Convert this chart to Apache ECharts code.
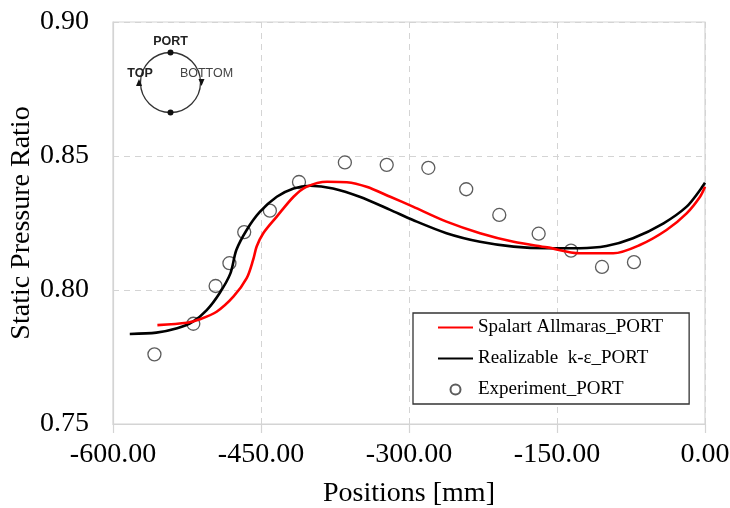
<!DOCTYPE html>
<html>
<head>
<meta charset="utf-8">
<script src="https://cdn.jsdelivr.net/npm/echarts@6/dist/echarts.min.js"></script>
<style>
  html, body { margin: 0; padding: 0; background: #fff; }
  #chart { width: 730px; height: 508px; }
</style>
</head>
<body>
<div id="chart"></div>
<script>
// Spalart Allmaras (红线)
const spaPos = [-555, -525, -512, -495, -478, -464.5, -458, -454.4, -447.7, -434, -417, -404, -383, -363, -343, -319, -296, -262, -228, -194, -160, -127, -93, -66, -39, -18.6, -5, 0];
const spaVal = [0.7869, 0.7878, 0.7891, 0.7919, 0.7975, 0.8044, 0.8112, 0.8162, 0.8212, 0.8274, 0.8348, 0.8385, 0.8404, 0.8402, 0.8385, 0.8348, 0.8311, 0.8255, 0.8212, 0.8180, 0.8159, 0.8137, 0.8137, 0.8168, 0.8224, 0.8286, 0.8348, 0.8385];
// Realizable k-e (黑线)
const rkePos = [-583, -556, -535, -519, -505, -492, -481, -475, -464.5, -451, -434, -417, -400, -377, -350, -319, -296, -262, -228, -194, -160, -127, -100, -73, -42, -18.6, -5, 0];
const rkeVal = [0.7836, 0.7841, 0.7857, 0.7882, 0.7925, 0.7988, 0.8062, 0.8149, 0.8224, 0.8292, 0.8348, 0.8379, 0.8389, 0.8379, 0.8348, 0.8299, 0.8261, 0.8212, 0.8180, 0.8162, 0.8156, 0.8156, 0.8164, 0.8193, 0.8249, 0.8311, 0.8373, 0.8400];
// 实验值
const expPos = [-558, -518.6, -496, -482, -467, -441, -411.5, -365, -322.6, -280.4, -242, -208.5, -168.6, -135.8, -104.4, -72];
const expVal = [0.776, 0.7874, 0.8015, 0.810, 0.8216, 0.8296, 0.8403, 0.8476, 0.8467, 0.8456, 0.8376, 0.828, 0.821, 0.8147, 0.8086, 0.8104];

const xTicks = { min: -600, max: 0, interval: 150 };
const yTicks = { min: 0.75, max: 0.90, interval: 0.05 };

const zip = (a, b) => a.map((v, i) => [v, b[i]]);
const SERIF = '"Liberation Serif", "Times New Roman", serif';
const SANS = '"Liberation Sans", Arial, sans-serif';

const chart = echarts.init(document.getElementById('chart'));

const option = {
  animation: false,
  backgroundColor: '#fff',
  grid: {
    left: 113, right: 25, top: 22, bottom: 84,
    outerBoundsMode: 'none', containLabel: false,
    show: true, borderColor: '#d4d4d4', borderWidth: 1.2
  },
  xAxis: {
    type: 'value', min: xTicks.min, max: xTicks.max, interval: xTicks.interval,
    name: 'Positions [mm]', nameLocation: 'middle', nameGap: 56, nameMoveOverlap: false,
    nameTextStyle: { fontFamily: SERIF, fontSize: 28, color: '#000' },
    axisLine: { show: true, onZero: false, lineStyle: { color: '#d4d4d4', width: 1.2 } },
    axisTick: { show: true, length: 9, lineStyle: { color: '#d4d4d4', width: 1.2 } },
    axisLabel: { fontFamily: SERIF, fontSize: 28, color: '#000', margin: 17, formatter: v => v.toFixed(2) },
    splitLine: { show: true, lineStyle: { color: '#d4d4d4', type: [6, 5], width: 1 } }
  },
  yAxis: {
    type: 'value', min: yTicks.min, max: yTicks.max, interval: yTicks.interval,
    name: 'Static Pressure Ratio', nameLocation: 'middle', nameGap: 77, nameMoveOverlap: false,
    nameTextStyle: { fontFamily: SERIF, fontSize: 28, color: '#000' },
    axisLine: { show: true, onZero: false, lineStyle: { color: '#d4d4d4', width: 1.2 } },
    axisTick: { show: false },
    axisLabel: { fontFamily: SERIF, fontSize: 28, color: '#000', margin: 24, formatter: v => v.toFixed(2) },
    splitLine: { show: true, lineStyle: { color: '#d4d4d4', type: [6, 5], width: 1 } }
  },
  legend: {
    orient: 'vertical', left: 413, top: 313,
    backgroundColor: '#fff', borderColor: '#333', borderWidth: 1.3,
    padding: [5, 26, 5, 24], itemGap: 12, itemWidth: 35, itemHeight: 10,
    textStyle: { fontFamily: SERIF, fontSize: 19, color: '#000' },
    data: [
      { name: 'Spalart Allmaras_PORT', itemStyle: { opacity: 0 } },
      { name: 'Realizable  k-ε_PORT', itemStyle: { opacity: 0 } },
      { name: 'Experiment_PORT' }
    ]
  },
  series: [
    {
      name: 'Experiment_PORT', type: 'scatter', z: 2,
      symbol: 'circle', symbolSize: 13,
      itemStyle: { color: 'rgba(255,255,255,0)', borderColor: '#333', borderWidth: 1.3 },
      data: zip(expPos, expVal)
    },
    {
      name: 'Realizable  k-ε_PORT', type: 'line', z: 3,
      smooth: 0.3, symbol: 'none', color: '#000',
      lineStyle: { color: '#000', width: 2.6 },
      data: zip(rkePos, rkeVal)
    },
    {
      name: 'Spalart Allmaras_PORT', type: 'line', z: 4,
      smooth: 0.3, symbol: 'none', color: '#f00',
      lineStyle: { color: '#f00', width: 2.6 },
      data: zip(spaPos, spaVal)
    }
  ],
  // 截面示意图
  graphic: [
    { type: 'circle', shape: { cx: 170.5, cy: 82.5, r: 30 }, style: { fill: 'none', stroke: '#333', lineWidth: 1.3 } },
    { type: 'circle', shape: { cx: 170.5, cy: 52.5, r: 3 }, style: { fill: '#111' } },
    { type: 'circle', shape: { cx: 170.5, cy: 112.5, r: 3 }, style: { fill: '#111' } },
    { type: 'polygon', shape: { points: [[139, 79], [136, 86], [142, 86]] }, style: { fill: '#111' } },
    { type: 'polygon', shape: { points: [[201.5, 86], [198.5, 79], [204.5, 79]] }, style: { fill: '#111' } },
    { type: 'text', x: 170.5, y: 42, style: { text: 'PORT', fontFamily: SANS, fontSize: 12.5, fontWeight: 'bold', fill: '#222', align: 'center', verticalAlign: 'middle' } },
    { type: 'text', x: 140, y: 73.5, style: { text: 'TOP', fontFamily: SANS, fontSize: 12.5, fontWeight: 'bold', fill: '#222', align: 'center', verticalAlign: 'middle' } },
    { type: 'text', x: 206.5, y: 73.5, style: { text: 'BOTTOM', fontFamily: SANS, fontSize: 12.5, fill: '#444', align: 'center', verticalAlign: 'middle' } }
  ]
};
chart.setOption(option);
</script>
</body>
</html>
